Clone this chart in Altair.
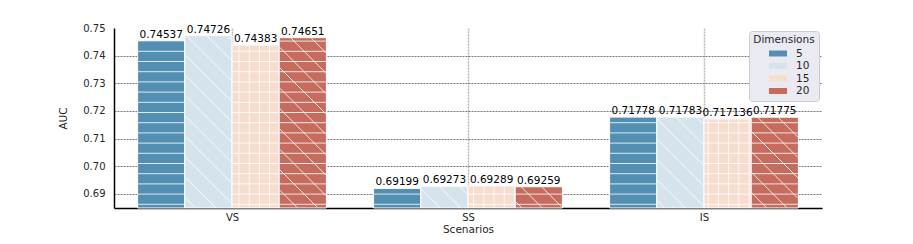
import altair as alt
import pandas as pd

scenarios = ["VS", "SS", "IS"]
dimensions = ["5", "10", "15", "20"]
auc_5 = [0.74537, 0.69199, 0.71778]
auc_10 = [0.74726, 0.69273, 0.71783]
auc_15 = [0.74383, 0.69289, 0.717136]
auc_20 = [0.74651, 0.69259, 0.71775]
labels_5 = ["0.74537", "0.69199", "0.71778"]
labels_10 = ["0.74726", "0.69273", "0.71783"]
labels_15 = ["0.74383", "0.69289", "0.717136"]
labels_20 = ["0.74651", "0.69259", "0.71775"]
colors = ["#538fb3", "#d5e4ec", "#f6ddce", "#c56c5e"]
hatches = ["-", "\\", "+", "\\-"]
y_ticks = [0.69, 0.70, 0.71, 0.72, 0.73, 0.74, 0.75]

W, H = 708, 180
XMIN, XMAX = -0.5, 2.5
YMIN, YMAX = 0.6849, 0.75
SX = W / (XMAX - XMIN)
SY = H / (YMAX - YMIN)
GROUP = 0.8
BW = GROUP / len(dimensions)

series = [auc_5, auc_10, auc_15, auc_20]
labs = [labels_5, labels_10, labels_15, labels_20]

rows = []
for i, sc in enumerate(scenarios):
    for j, d in enumerate(dimensions):
        x0 = i - GROUP / 2 + BW * j
        rows.append(dict(scenario=sc, dim=d, x0=x0, x1=x0 + BW, xc=x0 + BW / 2,
                         auc=series[j][i], base=YMIN, label=labs[j][i], hatch=hatches[j]))
bars = pd.DataFrame(rows)

# hatch segments derived from each bar's extent through the same scales
SP = 10.2
segs = []
for r in rows:
    bx0 = (r["x0"] - XMIN) * SX + 0.5
    bx1 = (r["x1"] - XMIN) * SX - 0.5
    by0 = 0.5
    by1 = (r["auc"] - YMIN) * SY - 0.5
    h = r["hatch"]

    def add(px0, py0, px1, py1):
        segs.append(dict(x=px0 / SX + XMIN, y=py0 / SY + YMIN,
                         x2=px1 / SX + XMIN, y2=py1 / SY + YMIN))
    if "-" in h or "+" in h:
        k = 0
        while True:
            yy = 3.7 + SP * k
            if yy >= by1:
                break
            if yy > by0:
                add(bx0, yy, bx1, yy)
            k += 1
    if "+" in h:
        k = 0
        while True:
            xx = 2.6 + SP * k
            if xx >= bx1:
                break
            if xx > bx0:
                add(xx, by0, xx, by1)
            k += 1
    if "\\" in h:
        k = 0
        while True:
            c = 2 * SP * k
            if c > bx1 + by1:
                break
            lo = max(bx0, c - by1)
            hi = min(bx1, c - by0)
            if hi > lo:
                add(lo, c - lo, hi, c - hi)
            k += 1
hatch_df = pd.DataFrame(segs)

xscale = alt.Scale(domain=[XMIN, XMAX], nice=False, zero=False)
yscale = alt.Scale(domain=[YMIN, YMAX], nice=False, zero=False)

label_expr = "[" + ",".join("'%s'" % s for s in scenarios) + "][round(datum.value)]"

x_axis = alt.Axis(values=[0, 1, 2], labelExpr=label_expr, title="Scenarios",
                  grid=True, gridColor="#b8b8b8", gridDash=[2, 1], gridWidth=1.5,
                  ticks=False, labelPadding=4, titlePadding=2,
                  domainColor="black", domainWidth=1.5)
y_axis = alt.Axis(values=y_ticks, format=".2f", labelOverlap=False,
                  title="AUC", grid=True, gridColor="#555555", gridDash=[2, 1],
                  gridWidth=0.8,
                  gridOpacity={"condition": {"test": "datum.value > 0.7495", "value": 0}, "value": 1},
                  ticks=False, labelPadding=9, titlePadding=14,
                  domainColor="black", domainWidth=1.5)

bar_layer = alt.Chart(bars).mark_bar(stroke="white", strokeWidth=1).encode(
    x=alt.X("x0:Q", scale=xscale, axis=x_axis),
    x2="x1:Q",
    y=alt.Y("auc:Q", scale=yscale, axis=y_axis),
    y2="base:Q",
    color=alt.Color("dim:N", sort=dimensions,
                    scale=alt.Scale(domain=dimensions, range=colors),
                    legend=alt.Legend(title="Dimensions", orient="none",
                                      legendX=635, legendY=3,
                                      symbolType="M-1.5,-0.5H1.5V0.5H-1.5Z",
                                      symbolSize=144, symbolStrokeWidth=0,
                                      symbolOpacity=1, symbolOffset=14,
                                      labelFontSize=10.5, titleFontSize=10.5,
                                      titleFontWeight="normal", titleAnchor="middle",
                                      titleColor="#262626", labelColor="#262626",
                                      fillColor="#eaeaf2", strokeColor="#cccccc",
                                      cornerRadius=3, padding=4, rowPadding=0.5,
                                      titlePadding=2, labelOffset=12)),
)

hatch_layer = alt.Chart(hatch_df).mark_rule(color="white", strokeWidth=1, opacity=0.8).encode(
    x=alt.X("x:Q", scale=xscale, axis=x_axis),
    x2="x2:Q",
    y=alt.Y("y:Q", scale=yscale, axis=y_axis),
    y2="y2:Q",
)

text_layer = alt.Chart(bars).mark_text(baseline="alphabetic", dy=-3, fontSize=10.5,
                                       color="black", font="DejaVu Sans").encode(
    x=alt.X("xc:Q", scale=xscale, axis=x_axis),
    y=alt.Y("auc:Q", scale=yscale, axis=y_axis),
    text="label:N",
)

chart = alt.layer(bar_layer, hatch_layer, text_layer).properties(
    width=W, height=H,
    autosize=alt.AutoSizeParams(type="none"),
    padding={"left": 106, "top": 20, "right": 83, "bottom": 28},
).configure_view(stroke=None).configure_axis(
    labelFont="DejaVu Sans", titleFont="DejaVu Sans", labelFontSize=10,
    titleFontSize=10.5, titleFontWeight="normal", labelColor="#262626",
    titleColor="#262626",
).configure_legend(labelFont="DejaVu Sans", titleFont="DejaVu Sans")

chart.save("out.html", embed_options={"renderer": "svg", "actions": False})
